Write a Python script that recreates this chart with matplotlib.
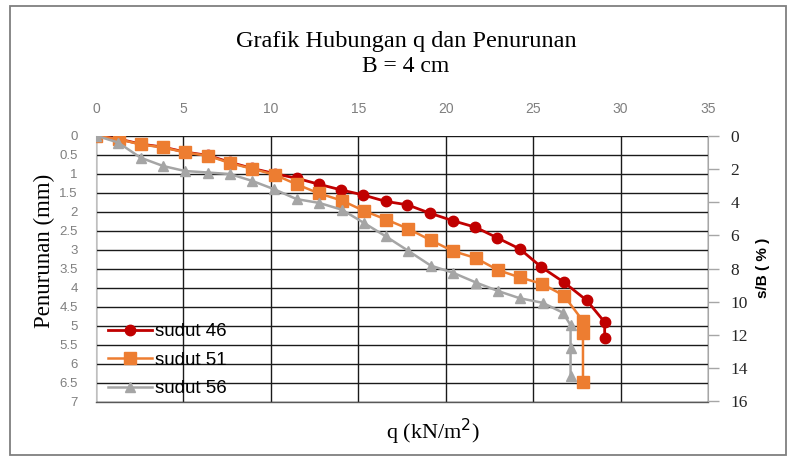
import matplotlib
matplotlib.use("Agg")
import matplotlib.pyplot as plt
from matplotlib.patches import Rectangle

# Load q (kN/m2) versus settlement (mm) for three footing angles
q_46 = [0, 1.33, 2.55, 3.85, 5.09, 6.42, 7.66, 8.93, 10.23, 11.47, 12.76, 14.04,
        15.27, 16.57, 17.81, 19.09, 20.42, 21.70, 22.95, 24.23, 25.47, 26.76,
        28.07, 29.09, 29.09]
s_46 = [0, 0.09, 0.22, 0.30, 0.43, 0.52, 0.70, 0.86, 1.00, 1.12, 1.28, 1.43,
        1.56, 1.73, 1.82, 2.04, 2.24, 2.41, 2.69, 2.98, 3.46, 3.86,
        4.34, 4.91, 5.32]

q_51 = [0, 1.33, 2.55, 3.85, 5.09, 6.42, 7.66, 8.93, 10.23, 11.47, 12.76, 14.07,
        15.33, 16.61, 17.85, 19.13, 20.42, 21.71, 22.99, 24.23, 25.50, 26.76,
        27.85, 27.85, 27.85]
s_51 = [0, 0.095, 0.23, 0.31, 0.44, 0.53, 0.72, 0.87, 1.03, 1.28, 1.52, 1.71,
        1.98, 2.21, 2.45, 2.75, 3.04, 3.22, 3.54, 3.73, 3.90, 4.21,
        4.88, 5.19, 6.48]

q_56 = [0, 1.27, 2.55, 3.85, 5.09, 6.42, 7.66, 8.93, 10.19, 11.47, 12.76, 14.07,
        15.33, 16.57, 17.85, 19.14, 20.42, 21.75, 22.99, 24.23, 25.54, 26.70,
        27.14, 27.14, 27.14]
s_56 = [0, 0.18, 0.58, 0.80, 0.93, 0.97, 1.01, 1.19, 1.41, 1.67, 1.77, 1.95,
        2.30, 2.65, 3.03, 3.42, 3.61, 3.87, 4.09, 4.28, 4.40, 4.66,
        4.99, 5.58, 6.33]

series_labels = ["sudut 46", "sudut 51", "sudut 56"]

x_ticks = [0, 5, 10, 15, 20, 25, 30, 35]
y_ticks = [0, 0.5, 1, 1.5, 2, 2.5, 3, 3.5, 4, 4.5, 5, 5.5, 6, 6.5, 7]
y_tick_labels = ["0", "0.5", "1", "1.5", "2", "2.5", "3", "3.5", "4", "4.5",
                 "5", "5.5", "6", "6.5", "7"]
sb_ticks = [0, 2, 4, 6, 8, 10, 12, 14, 16]

fig = plt.figure(figsize=(7.94, 4.68), dpi=100)
fig.patch.set_facecolor("white")

# outer chart frame
fig.patches.append(Rectangle((10 / 794, 1 - 455 / 468), 776 / 794, 449 / 468,
                             transform=fig.transFigure, fill=False,
                             edgecolor="#7f7f7f", linewidth=1.3, zorder=0))

ax = fig.add_axes([96 / 794, 1 - 401.5 / 468, 612 / 794, 265.8 / 468])

ax.plot(q_46, s_46, color="#C00000", marker="o", markersize=7.5, lw=2,
        label=series_labels[0], zorder=3)
ax.plot(q_51, s_51, color="#ED7D31", marker="s", markersize=8, lw=1.8,
        label=series_labels[1], zorder=4)
ax.plot(q_56, s_56, color="#A5A5A5", marker="^", markersize=7, lw=1.8,
        label=series_labels[2], zorder=5)

ax.set_xlim(0, 35)
ax.set_ylim(7, 0)
ax.set_xticks(x_ticks)
ax.set_yticks(y_ticks)
ax.set_yticklabels(y_tick_labels)
ax.xaxis.tick_top()
ax.tick_params(axis="x", length=0, pad=14, labelsize=10, labelcolor="#7f7f7f",
               top=True, bottom=False)
ax.tick_params(axis="y", length=0, pad=13, labelsize=9.5, labelcolor="#7f7f7f")
for lab in ax.get_xticklabels() + ax.get_yticklabels():
    lab.set_fontfamily("Liberation Sans")

ax.grid(True, color="#1a1a1a", linewidth=1.0)
ax.set_axisbelow(True)
for side in ["top", "right"]:
    ax.spines[side].set_visible(False)
ax.spines["left"].set_color("#bfbfbf")
ax.spines["bottom"].set_color("#595959")
ax.spines["bottom"].set_linewidth(1.0)

fig.text(44 / 794, 1 - 251 / 468, "Penurunan (mm)", rotation=90,
         ha="center", va="center", family="Liberation Serif", fontsize=16.5)
fig.text(433 / 794, 1 - 432 / 468, "q (kN/m$^2$)", ha="center", va="center",
         family="Liberation Serif", fontsize=16)

# secondary scale: settlement relative to footing width
ax2 = ax.twinx()
ax2.set_ylim(16, 0)
ax2.set_yticks(sb_ticks)
ax2.tick_params(axis="y", direction="out", length=8, width=1, color="#a6a6a6",
                pad=8, labelsize=12.5, labelcolor="#262626")
for lab in ax2.get_yticklabels():
    lab.set_fontfamily("Liberation Serif")
for side in ["top", "left", "bottom"]:
    ax2.spines[side].set_visible(False)
ax2.spines["right"].set_color("#a6a6a6")
fig.text(763 / 794, 1 - 268 / 468, "s/B ( % )", rotation=90, ha="center",
         va="center", family="Liberation Sans", fontweight="bold", fontsize=11)

leg = ax.legend(loc="lower left", bbox_to_anchor=(0.008, -0.012), frameon=False,
                prop={"family": "Liberation Sans", "size": 13.5},
                handlelength=2.3, handletextpad=0.2, labelspacing=0.6,
                borderaxespad=0.0)

fig.text(406 / 794, 1 - 41 / 468, "Grafik Hubungan q dan Penurunan",
         ha="center", va="center", family="Liberation Serif", fontsize=17.5)
fig.text(406 / 794, 1 - 67 / 468, "B = 4 cm", ha="center", va="center",
         family="Liberation Serif", fontsize=17)

fig.savefig("out.png", dpi=100, facecolor="white")
